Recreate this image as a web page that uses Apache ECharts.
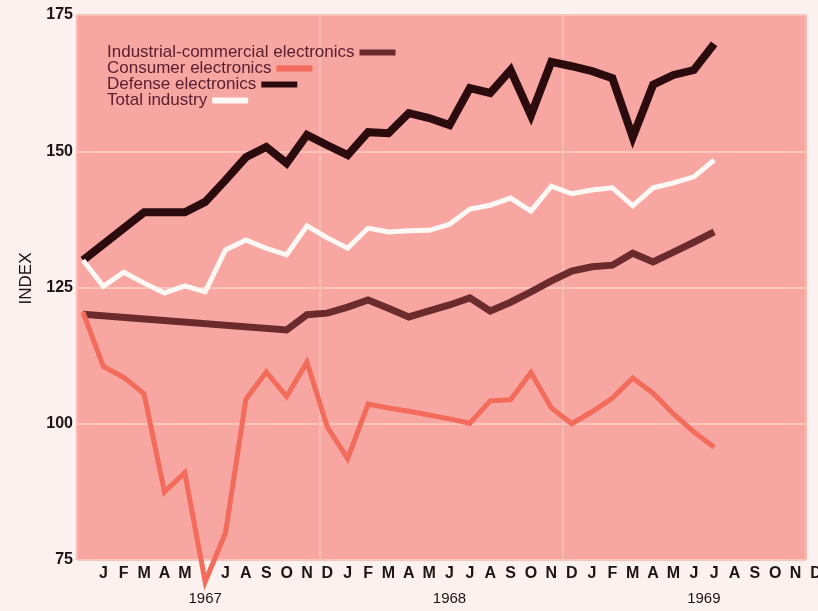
<!DOCTYPE html>
<html>
<head>
<meta charset="utf-8">
<title>Electronics industry index</title>
<script src="https://cdn.jsdelivr.net/npm/echarts@6/dist/echarts.min.js"></script>
<style>
html, body { margin: 0; padding: 0; background: #fcf1ef; }
#chart { width: 818px; height: 611px; }
</style>
</head>
<body>
<div id="chart"></div>
<script>
// month ticks from Dec 1966 to Dec 1969 (June 1967 letter is hidden under the line in the original)
var monthLabels = ['', 'J', 'F', 'M', 'A', 'M', '', 'J', 'A', 'S', 'O', 'N', 'D',
	'J', 'F', 'M', 'A', 'M', 'J', 'J', 'A', 'S', 'O', 'N', 'D',
	'J', 'F', 'M', 'A', 'M', 'J', 'J', 'A', 'S', 'O', 'N', 'D'];
var yearLabels = ['1967', '1968', '1969'];
var yearIndex = [6, 18, 30];
var yTicks = [75, 100, 125, 150, 175];

var names = ['Industrial-commercial electronics', 'Consumer electronics', 'Defense electronics', 'Total industry'];

// monthly index values, Dec 1966 .. Jul 1969 (null = no corner on a straight stretch)
var industrial = [120.1, null, null, null, null, null, null, null, null, null, 117.2, 120.0,
	120.3, 121.4, 122.7, 121.2, 119.6, 120.7, 121.8, 123.1, 120.7, 122.3, 124.2, 126.2,
	128.0, 128.8, 129.1, 131.3, 129.7, 131.5, 133.3, 135.2];
var consumer = [120.5, 110.5, 108.5, 105.5, 87.5, 91.0, 71.0, 80.0, 104.5, 109.5, 105.0, 111.3,
	99.4, 93.6, 103.6, 102.9, 102.3, 101.6, 100.9, 100.1, 104.2, 104.4, 109.4, 102.9,
	100.0, 102.2, 104.7, 108.4, 105.6, 101.8, 98.5, 95.7];
var defense = [130.0, null, null, 138.8, 138.8, 138.8, 140.7, 144.7, 148.9, 150.8, 147.8, 153.0,
	151.1, 149.3, 153.5, 153.3, 157.0, 156.1, 154.8, 161.6, 160.7, 164.9, 156.6, 166.4,
	165.6, 164.7, 163.4, 152.6, 162.2, 164.0, 164.9, 169.7];
var total = [130.0, 125.2, 127.8, 125.8, 124.0, 125.3, 124.2, 131.9, 133.7, 132.2, 131.0, 136.3,
	134.1, 132.2, 135.9, 135.2, 135.4, 135.5, 136.6, 139.4, 140.1, 141.4, 139.0, 143.6,
	142.2, 142.9, 143.3, 140.0, 143.3, 144.2, 145.3, 148.4];

var font = '"Liberation Sans", Arial, Helvetica, sans-serif';
var ink = '#1c1416';
var colors = ['#6b2a2c', '#f26b5b', '#2b0b0e', '#fdf8f3'];

function line(name, data, color, width) {
	return {
		name: name,
		type: 'line',
		xAxisIndex: 0,
		yAxisIndex: 0,
		data: data,
		symbol: 'none',
		connectNulls: true,
		clip: false,
		itemStyle: { color: color },
		lineStyle: { color: color, width: width, join: 'miter', miterLimit: 4 }
	};
}

// one legend per row so the swatch sits right after its own text
function legendRow(i) {
	return {
		orient: 'horizontal',
		left: 107,
		top: 44 + i * 16,
		padding: 0,
		align: 'right',
		icon: 'rect',
		itemWidth: 36,
		itemHeight: 6,
		selectedMode: false,
		textStyle: { fontSize: 17, color: '#5a2030', lineHeight: 16, fontFamily: font },
		data: [names[i]]
	};
}

var chart = echarts.init(document.getElementById('chart'));
var option = {
	backgroundColor: '#fcf1ef',
	animation: false,
	textStyle: { fontFamily: font },
	legend: [legendRow(0), legendRow(1), legendRow(2), legendRow(3)],
	grid: [
		{ left: 83, right: 2, top: 15, bottom: 51, outerBoundsMode: 'none' },
		{ left: 77, right: 12, top: 15, bottom: 51, outerBoundsMode: 'none',
			show: true, backgroundColor: '#f8a6a2', borderWidth: 0 }
	],
	xAxis: [
		{
			type: 'category', gridIndex: 0, position: 'bottom', data: monthLabels, boundaryGap: false,
			axisLine: { show: false }, axisTick: { show: false }, splitLine: { show: false },
			axisLabel: { interval: 0, margin: 6, fontSize: 16, fontWeight: 'bold', color: ink, fontFamily: font }
		},
		{
			type: 'category', gridIndex: 0, position: 'bottom', data: monthLabels, boundaryGap: false,
			axisLine: { show: false }, axisTick: { show: false }, splitLine: { show: false },
			axisLabel: {
				interval: 0, margin: 31, fontSize: 15, color: ink, fontFamily: font,
				formatter: function (v, i) {
					var j = yearIndex.indexOf(i);
					if (j < 0) return '';
					return j == 2 ? '{r|' + yearLabels[j] + '}' : yearLabels[j];
				},
				rich: { r: { fontSize: 15, color: ink, padding: [0, 0, 0, 20], fontFamily: font } }
			}
		},
		{
			type: 'value', gridIndex: 1, min: 0, max: 3, interval: 1,
			axisLabel: { show: false }, axisLine: { show: false }, axisTick: { show: false },
			splitLine: { show: true, lineStyle: { color: '#f6bbb3', width: 2 } }
		}
	],
	yAxis: [
		{
			type: 'value', gridIndex: 0, show: false,
			min: yTicks[0], max: yTicks[yTicks.length - 1], interval: yTicks[1] - yTicks[0]
		},
		{
			type: 'value', gridIndex: 1,
			min: yTicks[0], max: yTicks[yTicks.length - 1], interval: yTicks[1] - yTicks[0],
			axisLine: { show: false }, axisTick: { show: false },
			axisLabel: { margin: 4, fontSize: 16, fontWeight: 'bold', color: ink, fontFamily: font },
			splitLine: { lineStyle: { color: '#f9c5bb', width: 2 } },
			name: 'INDEX', nameLocation: 'middle', nameRotate: 90, nameGap: 42,
			nameTextStyle: { fontSize: 17, color: ink, fontFamily: font, padding: [0, 0, 0, 18] }
		}
	],
	series: [
		line(names[0], industrial, colors[0], 7),
		line(names[1], consumer, colors[1], 5),
		line(names[2], defense, colors[2], 8),
		line(names[3], total, colors[3], 5)
	]
};
chart.setOption(option);
</script>
</body>
</html>
